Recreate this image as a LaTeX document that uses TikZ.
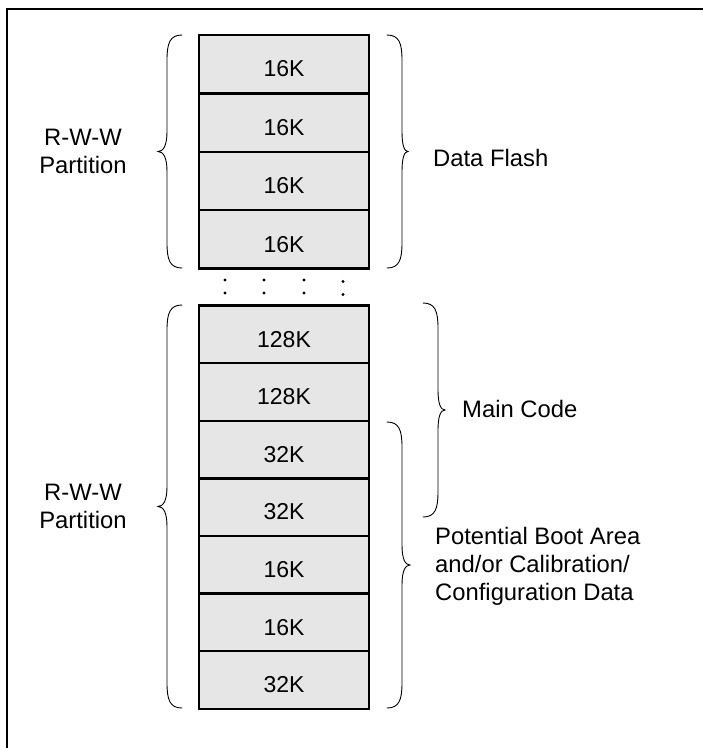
\documentclass[tikz,border=0pt]{standalone}
\usepackage{fontspec}
\setmainfont{Liberation Sans}
\definecolor{boxgray}{HTML}{E6E6E6}

% curly brace: #1 x of the ends, #2 top y, #3 bottom y,
% #4 side (+1 tip to the right, -1 tip to the left), #5 tip offset
\newcommand\curlybrace[5]{%
  \pgfmathsetmacro\bm{(#2+#3)/2}%
  \draw[bracestyle]
    (#1,#2) .. controls ({#1+#4*12},#2) and ({#1+#4*15},{#2+8}) .. ({#1+#4*15},{#2+25})
    -- ({#1+#4*15},{\bm-20})
    .. controls ({#1+#4*15},{\bm-6}) and ({#1+#4*(15+#5*0.4)},\bm) .. ({#1+#4*(15+#5)},\bm)
    .. controls ({#1+#4*(15+#5*0.4)},\bm) and ({#1+#4*15},{\bm+6}) .. ({#1+#4*15},{\bm+20})
    -- ({#1+#4*15},{#3-25})
    .. controls ({#1+#4*15},{#3-8}) and ({#1+#4*12},#3) .. (#1,#3);}

\tikzset{
  membox/.style={draw, line width=2.4pt, fill=boxgray, outer sep=0pt, inner sep=0pt,
    minimum width=170pt, font=\fontsize{23}{26}\selectfont,
    text height=25.5pt, text depth=0pt},
  toprow/.style={membox, minimum height=58.4pt},
  lowrow/.style={membox, minimum height=57.6pt},
  bracestyle/.style={line width=0.9pt, line cap=round},
  label/.style={inner sep=0pt, font=\fontsize{23.8}{28}\selectfont},
  frameline/.style={line width=2.4pt},
}

\begin{document}
\begin{tikzpicture}[x=1pt, y=-1pt]
  \useasboundingbox (0,0) rectangle (703,748);
  \fill[white] (0,0) rectangle (703,748);

  % outer frame (top and left edges)
  \draw[frameline] (7,750) -- (7,9) -- (705,9);

  % data flash sectors
  \node[toprow] (d1) at (284,64.2)  {16K};
  \node[toprow] (d2) at (284,122.6) {16K};
  \node[toprow] (d3) at (284,181.0) {16K};
  \node[toprow] (d4) at (284,239.4) {16K};

  % gap marks
  \foreach \x/\dy in {225/0,264/0,304/0,343/1.5}{
    \fill (\x,{280+\dy}) circle (1.6);
    \fill (\x,{293+\dy}) circle (1.6);
  }

  % code flash sectors
  \node[lowrow] (c1) at (284,334.3) {128K};
  \node[lowrow] (c2) at (284,391.9) {128K};
  \node[lowrow] (c3) at (284,449.5) {32K};
  \node[lowrow] (c4) at (284,507.1) {32K};
  \node[lowrow] (c5) at (284,564.7) {16K};
  \node[lowrow] (c6) at (284,622.3) {16K};
  \node[lowrow] (c7) at (284,679.9) {32K};

  % braces
  \curlybrace{182}{35}{268}{-1}{9}
  \curlybrace{182}{305}{708}{-1}{9}
  \curlybrace{387}{35}{268}{1}{6}
  \curlybrace{423}{303}{517}{1}{7}
  \curlybrace{387}{422}{708}{1}{8}

  % labels
  \node[label, align=center] (rww1) at (83,151) {R-W-W\\Partition};
  \node[label, align=center] (rww2) at (83,506.5) {R-W-W\\Partition};
  \node[label, anchor=west] (df) at (433,158) {Data Flash};
  \node[label, anchor=west] (mc) at (462,409) {Main Code};
  \node[label, anchor=west, align=left] (boot) at (435,566)
    {Potential Boot Area\\and/or Calibration/\\Configuration Data};
\end{tikzpicture}
\end{document}
